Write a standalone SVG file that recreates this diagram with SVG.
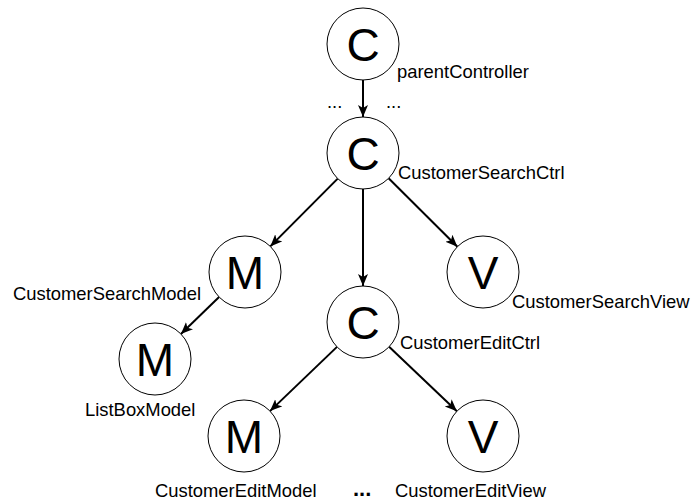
<svg xmlns="http://www.w3.org/2000/svg" width="693" height="501" viewBox="0 0 693 501">
<defs>
<style>
.node circle{fill:#fff;stroke:#000;stroke-width:1}
.big{font-family:"Liberation Sans",Arial,sans-serif;font-size:46px;text-anchor:middle;fill:#000}
.lbl{font-family:"Liberation Sans",Arial,sans-serif;font-size:18.4px;fill:#000}
.edge{stroke:#000;stroke-width:2;fill:none;marker-end:url(#arr)}
</style>
<marker id="arr" markerUnits="userSpaceOnUse" markerWidth="14" markerHeight="12" refX="12" refY="5" orient="auto">
<path d="M0,0 L12,5 L0,10 L3,5 z" fill="#000"/>
</marker>
</defs>
<rect width="693" height="501" fill="#fff"/>
<g id="connectors">
<line class="edge" x1="363" y1="80" x2="363" y2="117"/>
<line class="edge" x1="337.7" y1="178.6" x2="270.3" y2="246.4"/>
<line class="edge" x1="363" y1="189" x2="363" y2="286"/>
<line class="edge" x1="388.6" y1="178.3" x2="457.4" y2="246.7"/>
<line class="edge" x1="219.1" y1="297" x2="180.9" y2="334"/>
<line class="edge" x1="337" y1="346.9" x2="270" y2="411.1"/>
<line class="edge" x1="389.1" y1="346.8" x2="456.9" y2="411.2"/>
</g>
<g id="parentController" class="node"><circle cx="363" cy="44" r="36"/><text class="big" x="363" y="60.5">C</text><text class="lbl" x="397" y="78">parentController</text></g>
<g id="CustomerSearchCtrl" class="node"><circle cx="363" cy="153" r="36"/><text class="big" x="363" y="169.5">C</text><text class="lbl" x="398" y="179">CustomerSearchCtrl</text></g>
<g id="CustomerSearchModel" class="node"><circle cx="245" cy="272" r="36"/><text class="big" x="245" y="288.5">M</text><text class="lbl" x="13" y="300">CustomerSearchModel</text></g>
<g id="CustomerSearchView" class="node"><circle cx="483" cy="272" r="36"/><text class="big" x="483" y="288.5">V</text><text class="lbl" x="512" y="308">CustomerSearchView</text></g>
<g id="CustomerEditCtrl" class="node"><circle cx="363" cy="322" r="36"/><text class="big" x="363" y="338.5">C</text><text class="lbl" x="400" y="349">CustomerEditCtrl</text></g>
<g id="ListBoxModel" class="node"><circle cx="155" cy="359" r="36"/><text class="big" x="155" y="375.5">M</text><text class="lbl" x="85" y="416">ListBoxModel</text></g>
<g id="CustomerEditModel" class="node"><circle cx="244" cy="436" r="36"/><text class="big" x="244" y="452.5">M</text><text class="lbl" x="155" y="497">CustomerEditModel</text></g>
<g id="CustomerEditView" class="node"><circle cx="483" cy="436" r="36"/><text class="big" x="483" y="452.5">V</text><text class="lbl" x="395" y="497">CustomerEditView</text></g>
<g id="ellipses">
<text class="lbl" x="327" y="108">...</text>
<text class="lbl" x="386" y="108">...</text>
<text class="lbl" x="353" y="496" style="font-weight:bold;font-size:22px">...</text>
</g>
</svg>
